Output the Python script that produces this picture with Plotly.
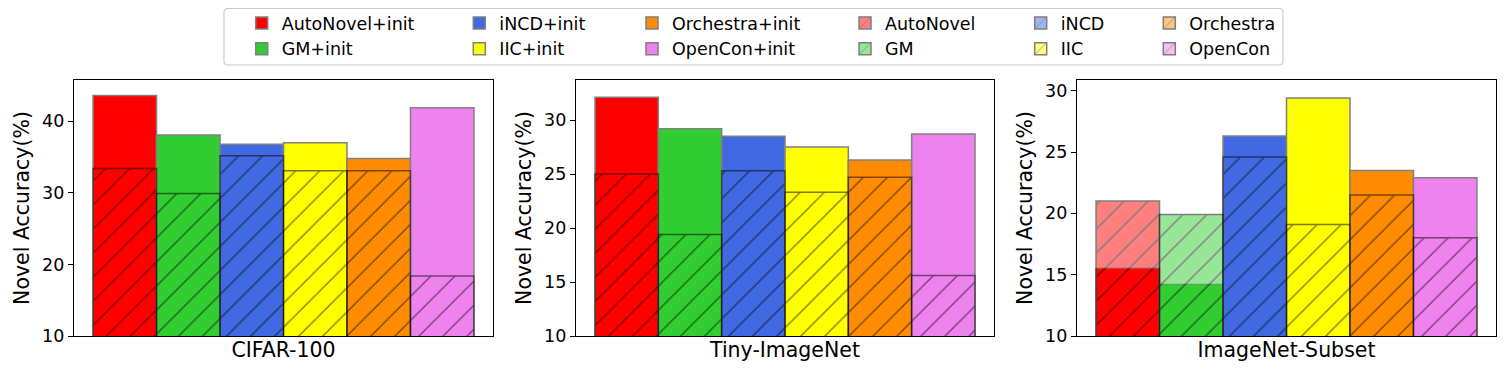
import plotly.graph_objects as go

# ---------------- data ----------------
datasets = ["CIFAR-100", "Tiny-ImageNet", "ImageNet-Subset"]
methods = ["AutoNovel", "GM", "iNCD", "IIC", "Orchestra", "OpenCon"]
colors = ["#ff0000", "#32cd32", "#4169e1", "#ffff00", "#ff8c00", "#ee82ee"]

init_cifar100 = [43.6, 38.1, 36.8, 37.0, 34.8, 41.9]
base_cifar100 = [33.4, 29.9, 35.2, 33.1, 33.1, 18.4]

init_tiny = [32.1, 29.2, 28.5, 27.5, 26.3, 28.7]
base_tiny = [25.0, 19.4, 25.3, 23.3, 24.7, 15.6]

init_imagenet = [15.5, 14.2, 26.3, 29.4, 23.5, 22.9]
base_imagenet = [21.0, 19.9, 24.6, 19.1, 21.5, 18.0]

y_ticks_step = [10, 5, 5]

init_sets = [init_cifar100, init_tiny, init_imagenet]
base_sets = [base_cifar100, base_tiny, base_imagenet]

# ---------------- layout geometry (page pixels) ----------------
PAGE_W, PAGE_H = 1508, 376
BODY = 8  # default browser body margin around the plot div
W, H = PAGE_W - 2 * BODY, PAGE_H - 2 * BODY
FONT = "DejaVu Sans"
x_domains_px = [(74, 493), (576, 994), (1077, 1496)]
y_top_px, y_bot_px = 80, 336


def px_x(p):
    return (p - BODY) / W


def px_y(p):
    return 1 - (p - BODY) / H


fig = go.Figure()

# +init bars (solid)
for p in range(3):
    xa = "x" if p == 0 else f"x{p + 1}"
    ya = "y" if p == 0 else f"y{p + 1}"
    for i, m in enumerate(methods):
        fig.add_trace(go.Bar(
            x=[i], y=[init_sets[p][i]], width=1,
            name=m + "+init",
            marker=dict(color=colors[i], line=dict(color="rgb(128,128,128)", width=1.5)),
            xaxis=xa, yaxis=ya,
            legend="legend" if i // 2 == 0 else f"legend{i // 2 + 1}",
            showlegend=(p == 0),
        ))

# base bars (hatched, translucent)
for p in range(3):
    xa = "x" if p == 0 else f"x{p + 1}"
    ya = "y" if p == 0 else f"y{p + 1}"
    for i, m in enumerate(methods):
        fig.add_trace(go.Bar(
            x=[i], y=[base_sets[p][i]], width=1,
            name=m,
            opacity=0.5,
            marker=dict(color=colors[i],
                        line=dict(color="black", width=1.5),
                        pattern=dict(shape="/", fillmode="overlay", fgcolor="black",
                                     fgopacity=1, size=17, solidity=0.08)),
            xaxis=xa, yaxis=ya,
            legend=f"legend{i // 2 + 4}",
            showlegend=(p == 0),
        ))

layout = dict(
    template="none",
    width=W, height=H,
    margin=dict(l=0, r=0, t=0, b=0, pad=0, autoexpand=False),
    paper_bgcolor="white", plot_bgcolor="white",
    barmode="overlay",
    font=dict(family=FONT, color="black"),
)

for p in range(3):
    xk = "xaxis" if p == 0 else f"xaxis{p + 1}"
    yk = "yaxis" if p == 0 else f"yaxis{p + 1}"
    ya_name = "y" if p == 0 else f"y{p + 1}"
    xa_name = "x" if p == 0 else f"x{p + 1}"
    top = max(max(init_sets[p]), max(base_sets[p])) * 1.05
    layout[xk] = dict(
        domain=[px_x(x_domains_px[p][0]), px_x(x_domains_px[p][1])],
        anchor=ya_name, range=[-0.8, 5.8], automargin=False,
        showticklabels=False, ticks="", showgrid=False, zeroline=False,
        showline=True, linecolor="black", linewidth=1.2, mirror=True,
        title=dict(text=datasets[p], font=dict(size=20.5, family=FONT, color="black"), standoff=6),
        fixedrange=True,
    )
    layout[yk] = dict(
        domain=[px_y(y_bot_px), px_y(y_top_px)],
        anchor=xa_name, range=[10, top], automargin=False,
        tick0=10, dtick=y_ticks_step[p],
        ticks="outside", ticklen=5, tickwidth=1.2, tickcolor="black",
        tickfont=dict(size=17.5, family=FONT, color="black"),
        showgrid=False, zeroline=False,
        showline=True, linecolor="black", linewidth=1.2, mirror=True,
        title=dict(text="Novel Accuracy(%)", font=dict(size=20.5, family=FONT, color="black"), standoff=6),
        fixedrange=True,
    )

# six legend columns
text_left_px = [281.7, 499.3, 672.0, 885.0, 1060.7, 1189.3]
for k in range(6):
    key = "legend" if k == 0 else f"legend{k + 1}"
    layout[key] = dict(
        x=px_x(text_left_px[k] - 40), xanchor="left",
        y=px_y(5), yanchor="top",
        orientation="v", traceorder="normal",
        bgcolor="rgba(0,0,0,0)", borderwidth=0,
        font=dict(size=17.5, family=FONT, color="black"),
        itemclick=False, itemdoubleclick=False,
    )

# legend frame (rounded box)
bx0, bx1, by0, by1, r = 224, 1283, 8.5, 65, 4
rx, ry = r / W, r / H
X0, X1, Y0, Y1 = px_x(bx0), px_x(bx1), px_y(by1), px_y(by0)
path = (f"M{X0 + rx},{Y1} L{X1 - rx},{Y1} Q{X1},{Y1} {X1},{Y1 - ry} "
        f"L{X1},{Y0 + ry} Q{X1},{Y0} {X1 - rx},{Y0} "
        f"L{X0 + rx},{Y0} Q{X0},{Y0} {X0},{Y0 + ry} "
        f"L{X0},{Y1 - ry} Q{X0},{Y1} {X0 + rx},{Y1} Z")
layout["shapes"] = [dict(type="path", xref="paper", yref="paper", path=path,
                         line=dict(color="#cccccc", width=1.2), fillcolor="white", layer="above")]

fig.update_layout(**layout)
fig.write_html("out.html")
